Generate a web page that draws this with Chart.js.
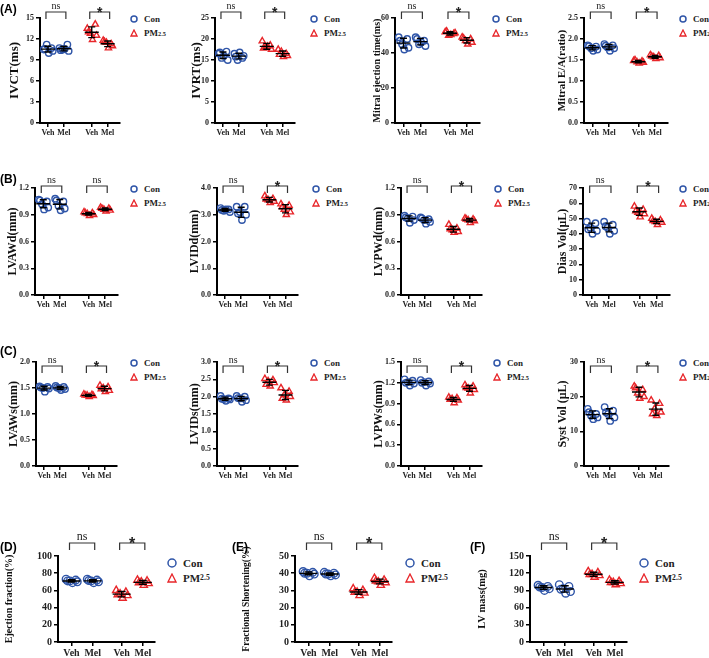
<!DOCTYPE html>
<html>
<head>
<meta charset="utf-8">
<script src="https://cdn.jsdelivr.net/npm/chart.js@4.4.0/dist/chart.umd.min.js"></script>
<style>
  body { margin: 0; background: #fff; width: 709px; height: 658px; position: relative; overflow: hidden; }
  .panel { position: absolute; }
  .lab { position: absolute; font: bold 12px "Liberation Sans", Arial, sans-serif; color: #000; }
  .leg { position: absolute; font-family: "Liberation Serif", serif; font-weight: bold; color: #222; white-space: nowrap; }
  .leg div { display: flex; align-items: center; }
  .leg svg { margin-right: 6px; }
  .leg sub { font-size: 70%; }
</style>
</head>
<body>
<script>
// categories and series
const groupLabels = ['Veh', 'Mel', 'Veh', 'Mel'];
const seriesNames = ['Con', 'PM2.5'];

// values per panel: [Con Veh, Con Mel, PM2.5 Veh, PM2.5 Mel]
const ivct = [[10.5, 10.7, 11.2, 10.3, 10.0, 10.6], [10.7, 11.2, 10.5, 10.3, 10.6, 10.4], [13.5, 14.1, 12.8, 12.5, 11.9, 13.0], [11.8, 11.3, 11.5, 11.0, 10.7, 11.6]];
const ivrt = [[16.5, 17.0, 15.5, 15.0, 16.0, 16.8], [16.5, 15.5, 15.0, 16.0, 16.8, 15.8], [19.5, 18.5, 18.0, 17.5, 18.2, 17.8], [17.5, 16.5, 17.0, 16.0, 15.8, 16.3]];
const mitralEt = [[49, 48, 45, 43, 42, 47], [49, 47, 45, 44, 46, 48], [52, 51, 50, 51.5, 50.5, 52.5], [49, 48, 47, 46, 45, 48.5]];
const mitralEA = [[1.85, 1.82, 1.78, 1.75, 1.72, 1.83], [1.88, 1.85, 1.80, 1.78, 1.72, 1.84], [1.48, 1.47, 1.45, 1.44, 1.42, 1.50], [1.62, 1.60, 1.57, 1.55, 1.53, 1.59]];
const lvawd = [[1.07, 1.05, 1.02, 0.98, 0.96, 1.06], [1.08, 1.05, 1.00, 0.97, 0.95, 1.06], [0.93, 0.92, 0.91, 0.90, 0.89, 0.92], [0.98, 0.97, 0.96, 0.95, 0.94, 0.97]];
const lvidd = [[3.25, 3.20, 3.15, 3.10, 3.20, 3.18], [3.30, 3.30, 3.10, 3.00, 2.80, 3.05], [3.70, 3.60, 3.55, 3.50, 3.45, 3.58], [3.40, 3.35, 3.20, 3.10, 3.00, 3.30]];
const lvpwd = [[0.89, 0.88, 0.86, 0.84, 0.81, 0.87], [0.87, 0.85, 0.84, 0.82, 0.80, 0.86], [0.79, 0.75, 0.73, 0.71, 0.70, 0.74], [0.86, 0.85, 0.84, 0.83, 0.81, 0.85]];
const diasVol = [[48, 47, 44, 42, 40, 43], [48, 46, 44, 42, 40, 45], [58, 56, 54, 53, 51, 55], [50, 49, 48, 47.5, 46, 48.5]];
const lvaws = [[1.53, 1.52, 1.50, 1.49, 1.43, 1.51], [1.54, 1.52, 1.50, 1.48, 1.46, 1.51], [1.38, 1.37, 1.36, 1.35, 1.33, 1.36], [1.55, 1.52, 1.50, 1.45, 1.43, 1.48]];
const lvids = [[2.02, 1.95, 1.93, 1.92, 1.88, 1.94], [2.02, 2.00, 1.95, 1.90, 1.85, 1.96], [2.52, 2.48, 2.45, 2.40, 2.30, 2.35], [2.25, 2.15, 2.05, 2.00, 1.90, 1.95]];
const lvpws = [[1.25, 1.23, 1.21, 1.19, 1.16, 1.20], [1.24, 1.22, 1.21, 1.19, 1.16, 1.20], [0.99, 0.98, 0.97, 0.95, 0.91, 0.96], [1.17, 1.15, 1.12, 1.10, 1.05, 1.13]];
const systVol = [[16.5, 15.0, 14.5, 14.0, 13.5, 15.5], [17.0, 16.0, 15.0, 14.0, 13.0, 15.5], [23.0, 22.0, 21.0, 20.0, 19.5, 22.5], [19.0, 18.0, 16.5, 15.5, 14.5, 15.0]];
const ejFrac = [[73, 72, 71, 70, 69, 71], [73, 72, 71, 70, 69, 71.5], [60, 58, 56, 54, 51, 55], [72, 71, 70, 68, 66, 69]];
const fracShort = [[41, 40.5, 40, 39.5, 38.5, 40], [40.5, 40, 39.5, 39, 38.5, 39.5], [31, 30, 29, 28.5, 27, 29], [37, 36, 35, 34.5, 33, 35.5]];
const lvMass = [[99, 97, 95, 93, 90, 96], [100, 97, 93, 88, 85, 92], [123, 121, 118, 116, 113, 118], [108, 106, 104, 102, 100, 104]];

const panelData = [ivct, ivrt, mitralEt, mitralEA, lvawd, lvidd, lvpwd, diasVol, lvaws, lvids, lvpws, systVol, ejFrac, fracShort, lvMass];
const axisTitles = ['IVCT(ms)', 'IVRT(ms)', 'Mitral ejection time(ms)', 'Mitral E/A(ratio)',
  'LVAWd(mm)', 'LVIDd(mm)', 'LVPWd(mm)', 'Dias Vol(μL)',
  'LVAWs(mm)', 'LVIDs(mm)', 'LVPWs(mm)', 'Syst Vol (μL)',
  'Ejection fraction(%)', 'Fractional Shortening(%)', 'LV mass(mg)'];
const yMax = [15, 25, 60, 2.5, 1.2, 4.0, 1.2, 70, 2.0, 3.0, 1.5, 30, 100, 50, 150];
const yStep = [3, 5, 20, 0.5, 0.3, 1.0, 0.3, 10, 0.5, 0.5, 0.3, 10, 20, 10, 30];
const yDecimals = [0, 0, 0, 1, 1, 1, 1, 0, 1, 1, 1, 0, 0, 0, 0];
const sigMarks = [['ns', '*'], ['ns', '*'], ['ns', '*'], ['ns', '*'],
  ['ns', 'ns'], ['ns', '*'], ['ns', '*'], ['ns', '*'],
  ['ns', '*'], ['ns', '*'], ['ns', '*'], ['ns', '*'],
  ['ns', '*'], ['ns', '*'], ['ns', '*']];
const panelLetters = ['(A)', '(B)', '(C)', '(D)', '(E)', '(F)'];

// layout: plot area position (x,y,w,h), title left edge (tx), title font (tf),
// legend position (lx,ly), bracket offset from plot top (br)
const BLUE = '#2f55a8', RED = '#e8262a';
const xPosSmall = [0.5, 1.5, 3.25, 4.25];
const xPosBig = [0.7, 1.8, 3.3, 4.4];
const jitter = [-0.28, 0.22, -0.08, 0.3, 0.05, -0.2];
const layout = [
  { x: 40, y: 18, w: 85, h: 105, tx: 7, tf: 13, lx: 130, ly: 12, br: -6 },
  { x: 215, y: 18, w: 85, h: 105, tx: 189, tf: 13, lx: 310, ly: 12, br: -6 },
  { x: 395, y: 18, w: 90, h: 105, tx: 372, tf: 10, lx: 492, ly: 12, br: -6 },
  { x: 584, y: 18, w: 89, h: 105, tx: 556, tf: 11, lx: 679, ly: 12, br: -6 },
  { x: 35, y: 188, w: 88, h: 107, tx: 6, tf: 12, lx: 130, ly: 182, br: -2 },
  { x: 217, y: 188, w: 86, h: 107, tx: 188, tf: 12, lx: 312, ly: 182, br: -2 },
  { x: 401, y: 188, w: 86, h: 107, tx: 372, tf: 12, lx: 494, ly: 182, br: -2 },
  { x: 583, y: 188, w: 92, h: 107, tx: 556, tf: 12, lx: 679, ly: 182, br: -2 },
  { x: 36, y: 362, w: 86, h: 104, tx: 7, tf: 12, lx: 130, ly: 356, br: 4 },
  { x: 217, y: 362, w: 86, h: 104, tx: 188, tf: 12, lx: 310, ly: 356, br: 4 },
  { x: 401, y: 362, w: 86, h: 104, tx: 372, tf: 12, lx: 493, ly: 356, br: 4 },
  { x: 584, y: 362, w: 90, h: 104, tx: 556, tf: 12, lx: 679, ly: 356, br: 4 },
  { x: 58, y: 556, w: 102, h: 86, tx: 4, tf: 10, lx: 167, ly: 555, br: -13, big: true },
  { x: 295, y: 556, w: 102, h: 86, tx: 241, tf: 9.5, lx: 405, ly: 555, br: -13, big: true },
  { x: 530, y: 556, w: 102, h: 86, tx: 477, tf: 10.5, lx: 639, ly: 555, br: -13, big: true }
];
const letterPos = [[0, 2], [0, 172], [0, 344], [0, 540], [232, 540], [470, 540]];

function mean(a) { return a.reduce((s, v) => s + v, 0) / a.length; }
function sd(a) { const m = mean(a); return Math.sqrt(a.reduce((s, v) => s + (v - m) * (v - m), 0) / (a.length - 1)); }

const statsPlugin = {
  id: 'stats',
  afterDatasetsDraw(chart, args, opts) {
    const { ctx, chartArea } = chart;
    const xs = chart.scales.x, ys = chart.scales.y;
    const xp = opts.xPos;
    const half = opts.big ? 9 : 7, cap = opts.big ? 4 : 3.5;
    ctx.save();
    ctx.strokeStyle = '#000';
    ctx.lineWidth = 1.4;
    opts.groups.forEach((vals, g) => {
      const cx = xs.getPixelForValue(xp[g]);
      const m = mean(vals), s = sd(vals);
      const ym = ys.getPixelForValue(m), y1 = ys.getPixelForValue(m - s), y2 = ys.getPixelForValue(m + s);
      ctx.beginPath();
      ctx.moveTo(cx - half, ym); ctx.lineTo(cx + half, ym);
      ctx.moveTo(cx, y1); ctx.lineTo(cx, y2);
      ctx.moveTo(cx - cap, y1); ctx.lineTo(cx + cap, y1);
      ctx.moveTo(cx - cap, y2); ctx.lineTo(cx + cap, y2);
      ctx.stroke();
    });
    // significance brackets
    ctx.lineWidth = 1.2;
    ctx.strokeStyle = '#333';
    [[0, 1], [2, 3]].forEach((pair, k) => {
      const x1 = xs.getPixelForValue(xp[pair[0]]) - 2, x2 = xs.getPixelForValue(xp[pair[1]]) + 2;
      const yb = chartArea.top + opts.br;
      ctx.beginPath();
      ctx.moveTo(x1, yb + 7); ctx.lineTo(x1, yb); ctx.lineTo(x2, yb); ctx.lineTo(x2, yb + 7);
      ctx.stroke();
      const mark = opts.sig[k];
      ctx.fillStyle = '#222';
      ctx.textAlign = 'center';
      ctx.textBaseline = 'alphabetic';
      if (mark === '*') {
        ctx.font = 'bold ' + (opts.big ? 16 : 14) + 'px "Liberation Sans", Arial, sans-serif';
        ctx.fillText(mark, (x1 + x2) / 2, yb + (opts.big ? 6 : 5));
      } else {
        ctx.font = (opts.big ? 12 : 10) + 'px "Liberation Serif", serif';
        ctx.fillText(mark, (x1 + x2) / 2, yb - 3);
      }
    });
    ctx.restore();
  }
};

function makePanel(i) {
  const p = layout[i], groups = panelData[i];
  const big = !!p.big;
  const xPos = big ? xPosBig : xPosSmall;
  const yW = p.x - p.tx, padTop = 24, xH = big ? 16 : 16;
  const wrap = document.createElement('div');
  wrap.className = 'panel';
  wrap.style.left = p.tx + 'px';
  wrap.style.top = (p.y - padTop) + 'px';
  wrap.style.width = (yW + p.w) + 'px';
  wrap.style.height = (padTop + p.h + xH) + 'px';
  const cv = document.createElement('canvas');
  wrap.appendChild(cv);
  document.body.appendChild(wrap);

  const ds = [0, 1].map(sIdx => {
    const pts = [];
    [0, 1].forEach(gg => {
      const g = sIdx * 2 + gg;
      groups[g].forEach((v, k) => pts.push({ x: xPos[g] + jitter[k % jitter.length], y: v }));
    });
    return {
      label: seriesNames[sIdx],
      data: pts,
      pointStyle: sIdx === 0 ? 'circle' : 'triangle',
      pointRadius: big ? (sIdx === 0 ? 3.8 : 4.2) : (sIdx === 0 ? 3.2 : 3.6),
      borderColor: sIdx === 0 ? BLUE : RED,
      pointBorderWidth: 1.4,
      backgroundColor: 'rgba(255,255,255,0)'
    };
  });

  const tickFont = { family: '"Liberation Serif", serif', weight: 'bold', size: big ? 10 : 8 };
  new Chart(cv, {
    type: 'scatter',
    data: { datasets: ds },
    options: {
      responsive: true,
      maintainAspectRatio: false,
      animation: false,
      devicePixelRatio: 1,
      layout: { padding: { top: padTop, left: 0, right: 0, bottom: 0 } },
      plugins: {
        legend: { display: false },
        tooltip: { enabled: false },
        stats: { groups: groups, sig: sigMarks[i], br: p.br, big: big, xPos: xPos }
      },
      scales: {
        x: {
          type: 'linear', min: 0, max: 5,
          afterBuildTicks: s => { s.ticks = xPos.map(v => ({ value: v })); },
          afterFit: s => { s.height = xH; },
          ticks: { autoSkip: false, maxRotation: 0, padding: 1, color: '#222', font: tickFont,
            callback: (v, idx) => groupLabels[idx] },
          grid: { drawOnChartArea: false, drawTicks: true, tickLength: 4, color: '#000', lineWidth: 1.5 },
          border: { display: true, color: '#000', width: 2 }
        },
        y: {
          min: 0, max: yMax[i],
          afterFit: s => { s.width = yW; },
          ticks: { stepSize: yStep[i], padding: 2, color: '#222',
            font: { family: '"Liberation Serif", serif', weight: 'bold', size: big ? 10 : 8 },
            callback: v => v.toFixed(yDecimals[i]) },
          grid: { drawOnChartArea: false, drawTicks: true, tickLength: 4, color: '#000', lineWidth: 1.5 },
          border: { display: true, color: '#000', width: 2 },
          title: { display: true, text: axisTitles[i], color: '#111', padding: 0,
            font: { family: '"Liberation Serif", serif', weight: 'bold', size: p.tf, lineHeight: 1.1 } }
        }
      }
    },
    plugins: [statsPlugin]
  });

  // legend with subscript
  const lg = document.createElement('div');
  lg.className = 'leg';
  lg.style.left = p.lx + 'px';
  lg.style.top = p.ly + 'px';
  lg.style.fontSize = (big ? 11 : 9) + 'px';
  const sz = big ? 10 : 8, rowH = big ? 15 : 14;
  lg.innerHTML =
    '<div style="height:' + rowH + 'px"><svg width="' + sz + '" height="' + sz + '"><circle cx="' + sz / 2 + '" cy="' + sz / 2 + '" r="' + (sz / 2 - 1) + '" fill="none" stroke="' + BLUE + '" stroke-width="1.5"/></svg>' + seriesNames[0] + '</div>' +
    '<div style="height:' + rowH + 'px"><svg width="' + sz + '" height="' + sz + '"><polygon points="' + sz / 2 + ',1 ' + (sz - 1) + ',' + (sz - 1) + ' 1,' + (sz - 1) + '" fill="none" stroke="' + RED + '" stroke-width="1.3"/></svg>PM<sub>2.5</sub></div>';
  document.body.appendChild(lg);
}

for (let i = 0; i < panelData.length; i++) makePanel(i);

panelLetters.forEach((t, k) => {
  const d = document.createElement('div');
  d.className = 'lab';
  d.style.left = letterPos[k][0] + 'px';
  d.style.top = letterPos[k][1] + 'px';
  d.textContent = t;
  document.body.appendChild(d);
});
</script>
</body>
</html>
